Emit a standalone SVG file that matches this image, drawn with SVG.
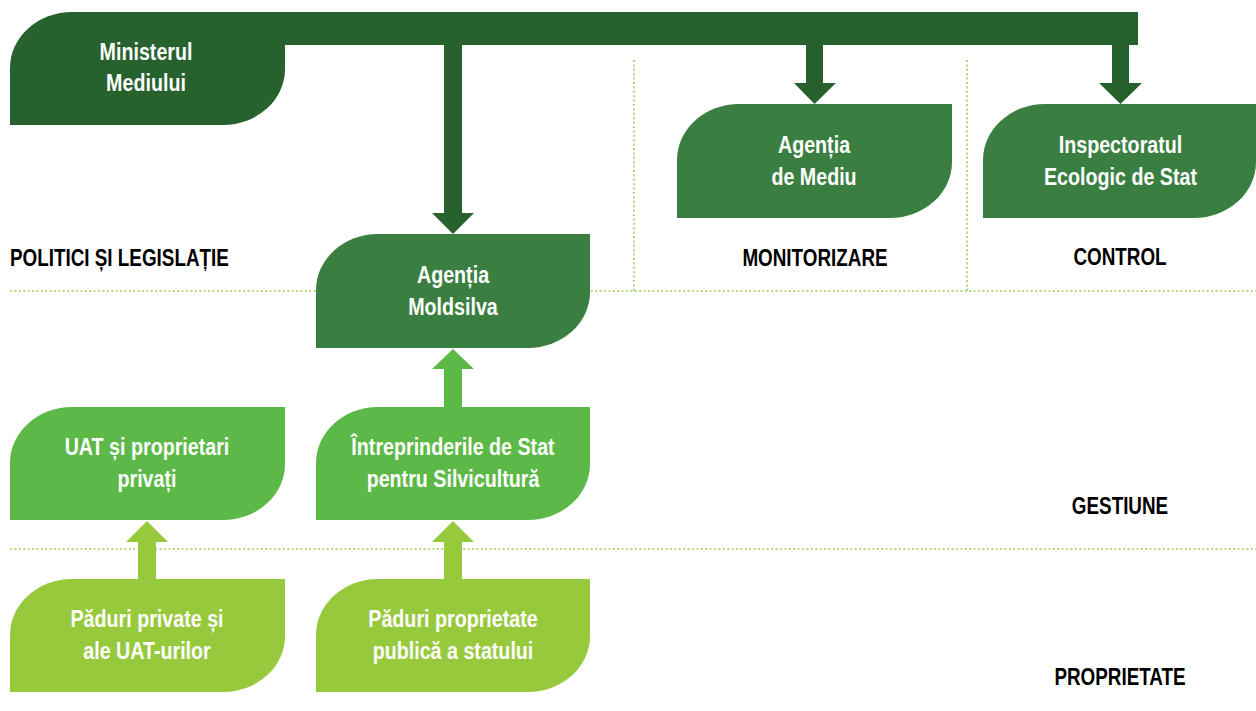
<svg xmlns="http://www.w3.org/2000/svg" width="1256" height="711" viewBox="0 0 1256 711">
<style>
.dot{stroke:#98cc5a;stroke-width:1.6;stroke-dasharray:2 2.4;fill:none}
.nt{font-family:"Liberation Sans",Arial,sans-serif;font-weight:bold;font-size:24px;fill:#fff;text-anchor:middle}
.lb{font-family:"Liberation Sans",Arial,sans-serif;font-weight:bold;font-size:23px;fill:#000}
.c1{fill:#26612e}.c2{fill:#3a7f41}.c3{fill:#5cb947}.c4{fill:#97c93d}
</style>
<rect width="1256" height="711" fill="#fff"/>
<g id="grid">
<line class="dot" x1="10" y1="291" x2="1256" y2="291"/>
<line class="dot" x1="10" y1="549" x2="1256" y2="549"/>
<line class="dot" x1="634" y1="60" x2="634" y2="291"/>
<line class="dot" x1="967" y1="60" x2="967" y2="291"/>
</g>
<g id="connectors">
<path class="c1" d="M200,12 H1138 V45 H1129 V83 H1142 L1120.5,104 L1099,83 H1112 V45 H823 V83 H836 L814.5,104 L794,83 H806 V45 H462 V213 H474 L453,234 L432,213 H444 V45 H200 Z"/>
<path class="c3" d="M444,407 V369 H432 L453,349 L474,369 H462 V407 Z"/>
<path class="c4" d="M444,579 V542 H432 L453,521 L474,542 H462 V579 Z"/>
<path class="c4" d="M138,579 V542 H126 L147,521 L168,542 H156 V579 Z"/>
</g>
<g id="n-minister">
<path class="c1" d="M10,125 V68 A62 56 0 0 1 72,12 H285 V69 A62 56 0 0 1 223,125 Z"/>
<text class="nt" transform="translate(146 60) scale(0.82 1)">Ministerul</text>
<text class="nt" transform="translate(146 91) scale(0.82 1)">Mediului</text>
</g>
<g id="n-moldsilva">
<path class="c2" d="M316,348 V290 A62 56 0 0 1 378,234 H590 V292 A62 56 0 0 1 528,348 Z"/>
<text class="nt" transform="translate(453 283) scale(0.82 1)">Agenția</text>
<text class="nt" transform="translate(453 315) scale(0.82 1)">Moldsilva</text>
</g>
<g id="n-mediu">
<path class="c2" d="M677,218 V160 A62 56 0 0 1 739,104 H952 V162 A62 56 0 0 1 890,218 Z"/>
<text class="nt" transform="translate(814 153) scale(0.82 1)">Agenția</text>
<text class="nt" transform="translate(814 185) scale(0.82 1)">de Mediu</text>
</g>
<g id="n-inspectorat">
<path class="c2" d="M983,218 V160 A62 56 0 0 1 1045,104 H1256 V162 A62 56 0 0 1 1194,218 Z"/>
<text class="nt" transform="translate(1120.5 153) scale(0.82 1)">Inspectoratul</text>
<text class="nt" transform="translate(1120.5 185) scale(0.82 1)">Ecologic de Stat</text>
</g>
<g id="n-uat">
<path class="c3" d="M10,520 V463 A62 56 0 0 1 72,407 H285 V464 A62 56 0 0 1 223,520 Z"/>
<text class="nt" transform="translate(147 455) scale(0.82 1)">UAT și proprietari</text>
<text class="nt" transform="translate(147 487) scale(0.82 1)">privați</text>
</g>
<g id="n-intreprinderi">
<path class="c3" d="M316,520 V463 A62 56 0 0 1 378,407 H590 V464 A62 56 0 0 1 528,520 Z"/>
<text class="nt" transform="translate(453 455) scale(0.82 1)">Întreprinderile de Stat</text>
<text class="nt" transform="translate(453 487) scale(0.82 1)">pentru Silvicultură</text>
</g>
<g id="n-paduri-private">
<path class="c4" d="M10,692 V635 A62 56 0 0 1 72,579 H285 V636 A62 56 0 0 1 223,692 Z"/>
<text class="nt" transform="translate(147 627) scale(0.82 1)">Păduri private și</text>
<text class="nt" transform="translate(147 659) scale(0.82 1)">ale UAT-urilor</text>
</g>
<g id="n-paduri-stat">
<path class="c4" d="M316,692 V635 A62 56 0 0 1 378,579 H590 V636 A62 56 0 0 1 528,692 Z"/>
<text class="nt" transform="translate(453 627) scale(0.82 1)">Păduri proprietate</text>
<text class="nt" transform="translate(453 659) scale(0.82 1)">publică a statului</text>
</g>
<g id="labels">
<text class="lb" transform="translate(10 266) scale(0.82 1)">POLITICI ȘI LEGISLAȚIE</text>
<text class="lb" transform="translate(815 266) scale(0.82 1)" text-anchor="middle">MONITORIZARE</text>
<text class="lb" transform="translate(1120 265) scale(0.82 1)" text-anchor="middle">CONTROL</text>
<text class="lb" transform="translate(1120 514) scale(0.82 1)" text-anchor="middle">GESTIUNE</text>
<text class="lb" transform="translate(1120 685) scale(0.82 1)" text-anchor="middle">PROPRIETATE</text>
</g>
</svg>
